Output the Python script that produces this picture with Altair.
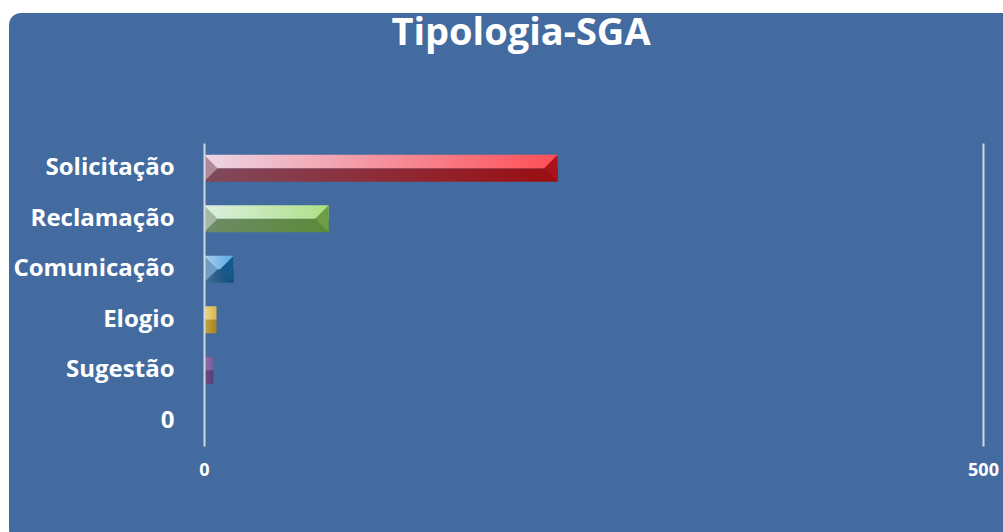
import altair as alt
import pandas as pd

# Categories and counts
categorias = ["Solicitação", "Reclamação", "Comunicação", "Elogio", "Sugestão", "0"]
valores = [227, 80, 19, 8, 6, 0]

# Bevel colours per category: top face (left, right), bottom face (left, right)
cores = {
    "Solicitação": ("#ecd6e6", "#ff4e55", "#7f4a5c", "#9c0d12"),
    "Reclamação": ("#dcefe0", "#aee086", "#6e8b68", "#5b8a38"),
    "Comunicação": ("#a9cfec", "#5aa9e8", "#3f6d93", "#0f4c7c"),
    "Elogio": ("#ead78e", "#d9b646", "#c7a443", "#a98420"),
    "Sugestão": ("#8c72aa", "#7a5a9a", "#6d4f8b", "#5a3b78"),
}
# End faces of the bevel (left cap, right cap); only drawn on bars long enough
tampas = {
    "Solicitação": ("#b08a9a", "#a8141a"),
    "Reclamação": ("#a3b9a2", "#6f9c46"),
    "Comunicação": ("#6f9cc2", "#17588c"),
}

df = pd.DataFrame({"categoria": categorias, "valor": valores})

W, H = 779, 303
PAD = {"left": 204, "top": 143, "right": 20, "bottom": 86}
FUNDO = "#436b9f"
FONTE = "Open Sans"
BARRA = 27  # bar thickness in pixels

x_enc = alt.X(
    "valor:Q",
    scale=alt.Scale(domain=[0, 500], nice=False),
    axis=alt.Axis(
        values=[0, 500], grid=True, gridColor="#d3d8e0", gridWidth=2,
        domain=False, ticks=False, labelColor="white", labelFont=FONTE,
        labelFontWeight="bold", labelFontSize=18, labelPadding=15,
        labelFlush=False, title=None, zindex=1,
    ),
)
y_enc = alt.Y(
    "categoria:N",
    sort=categorias,
    scale=alt.Scale(paddingInner=0.46, paddingOuter=0.23),
    axis=alt.Axis(
        domain=False, ticks=False, grid=False, labelColor="white",
        labelFont=FONTE, labelFontWeight="bold", labelFontSize=24,
        labelPadding=30, title=None, zindex=1,
    ),
)


def grad(c1, c2):
    return alt.Gradient(
        gradient="linear", x1=0, y1=0, x2=1, y2=0,
        stops=[alt.GradientStop(color=c1, offset=0), alt.GradientStop(color=c2, offset=1)],
    )


# Panel backdrop
fundo = alt.Chart(alt.Data(values=[{}])).mark_rect(
    color=FUNDO, cornerRadiusTopLeft=12, cornerRadiusBottomLeft=6
).encode(
    x=alt.value(-PAD["left"] + 9), x2=alt.value(W + PAD["right"] + 20),
    y=alt.value(-PAD["top"] + 13), y2=alt.value(H + PAD["bottom"] + 4),
)

# Invisible layer carrying the axes
eixos = alt.Chart(df).mark_bar(opacity=0).encode(x=x_enc, y=y_enc)

camadas = [fundo, eixos]
meia = BARRA / 2
for cat, (tl, tr, bl, br) in cores.items():
    base = alt.Chart(df).transform_filter(alt.datum.categoria == cat)
    topo = base.mark_bar(size=meia, yOffset=-meia / 2, fill=grad(tl, tr)).encode(x=x_enc, y=y_enc)
    baixo = base.mark_bar(size=meia, yOffset=meia / 2, fill=grad(bl, br)).encode(x=x_enc, y=y_enc)
    camadas += [baixo, topo]
    if cat in tampas:
        esq, dir_ = tampas[cat]
        cap_esq = base.transform_calculate(zero="0").mark_point(
            shape="M0,-1L1,0L0,1Z", size=BARRA ** 2, filled=True,
            fill=esq, opacity=1, strokeWidth=0,
        ).encode(x=alt.X("zero:Q", scale=alt.Scale(domain=[0, 500], nice=False)), y=y_enc)
        cap_dir = base.mark_point(
            shape="M0,-1L-1,0L0,1Z", size=BARRA ** 2, filled=True,
            fill=dir_, opacity=1, strokeWidth=0,
        ).encode(x=x_enc, y=y_enc)
        camadas += [cap_esq, cap_dir]

titulo = alt.Chart(alt.Data(values=[{}])).mark_text(
    text="Tipologia-SGA", font=FONTE, fontWeight="bold", fontSize=38,
    color="white", align="center", baseline="alphabetic",
).encode(x=alt.value(317), y=alt.value(-98))
camadas.append(titulo)

chart = alt.layer(*camadas).properties(
    width=W, height=H, background="white",
    autosize=alt.AutoSizeParams(type="none"), padding=PAD,
).configure_view(stroke=None)

chart.save("out.html", embed_options={"renderer": "svg", "actions": False})
